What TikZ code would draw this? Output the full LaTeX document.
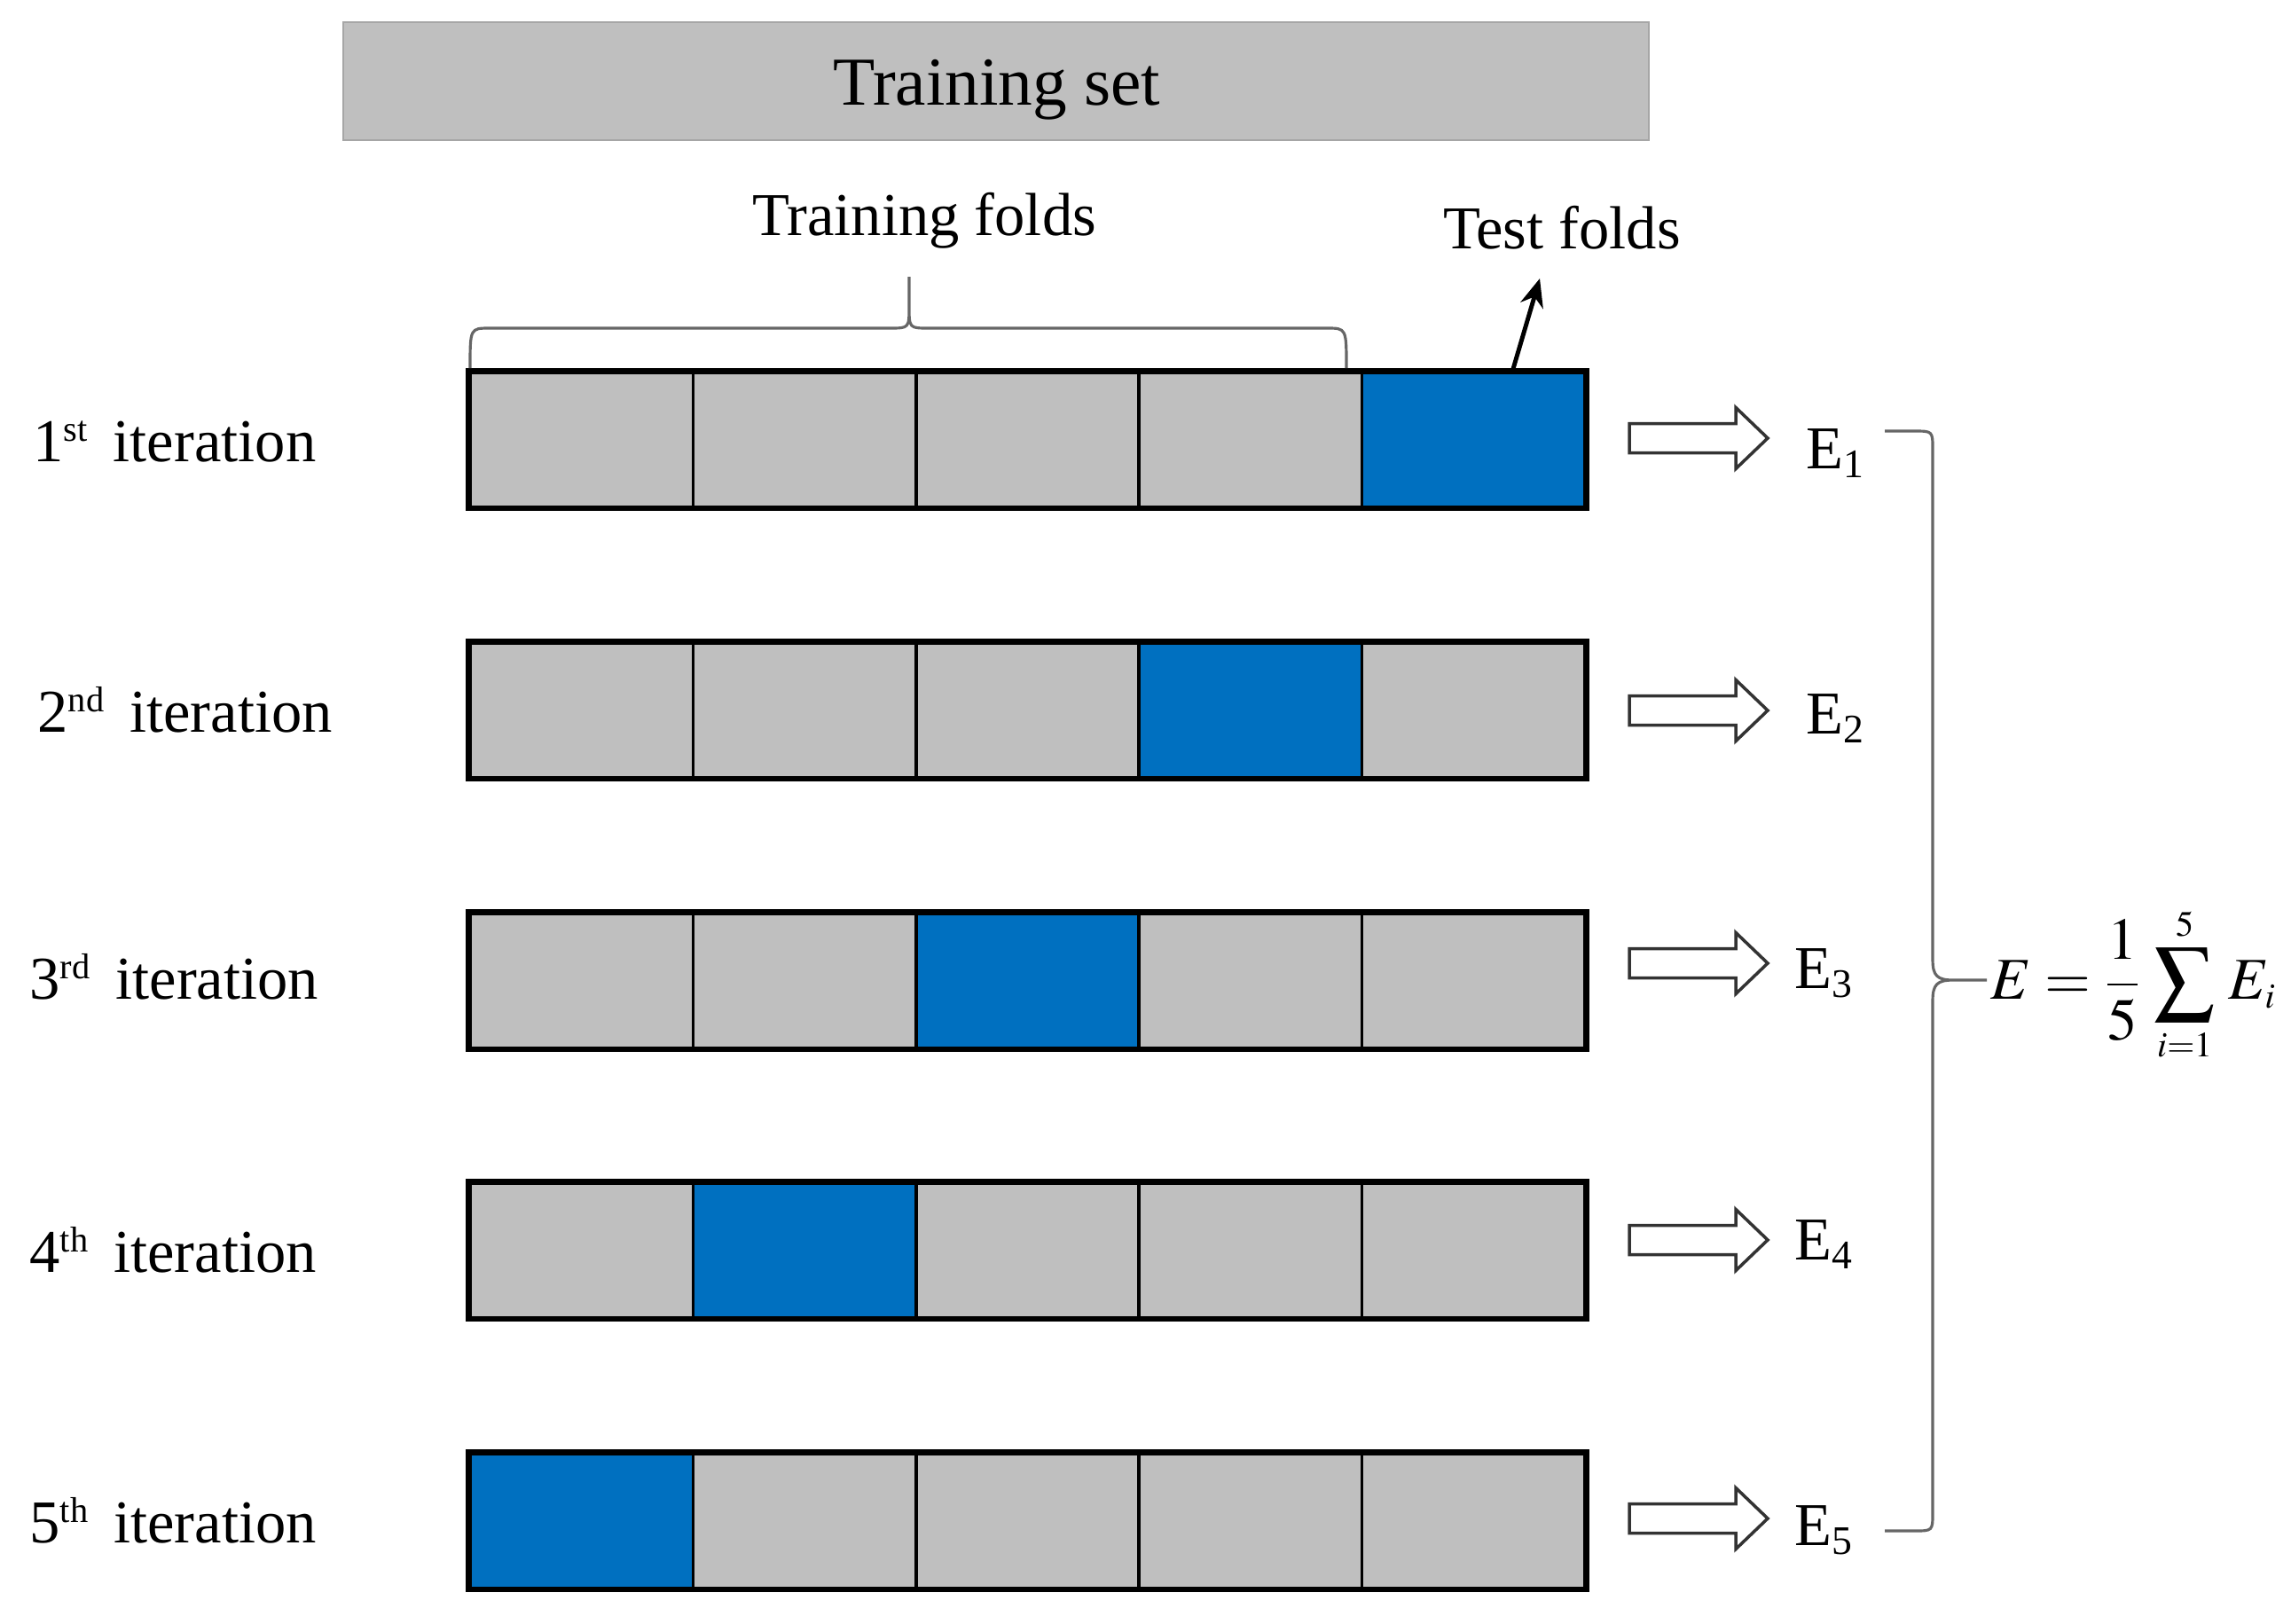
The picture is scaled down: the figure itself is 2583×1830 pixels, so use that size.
\documentclass[tikz,border=0pt]{standalone}
\usepackage{mathptmx}
\usepackage{fontspec}
\setmainfont{Liberation Serif}
\usetikzlibrary{arrows.meta,calc}
\definecolor{cellgray}{HTML}{BFBFBF}
\definecolor{foldblue}{HTML}{0070C0}
\newcommand\itsup[1]{\raisebox{6.3pt}{\fontsize{11.5}{12}\selectfont #1}}
\newcommand\esub[1]{\raisebox{-3pt}{\fontsize{13}{14}\selectfont #1}}
\begin{document}
\begin{tikzpicture}[x=0.01cm,y=-0.01cm,
  lbl/.style={font=\fontsize{19.5}{23}\selectfont, inner sep=0pt},
  cell/.style={draw=black, line width=1pt, minimum width=2.514cm, minimum height=1.515cm, inner sep=0pt, fill=cellgray},
  testcell/.style={cell, fill=foldblue},
  rowframe/.style={draw=black, line width=1.6pt},
  hollow/.style={draw=black!80, line width=1pt, fill=white, line join=miter},
  bracestyle/.style={draw=black!60, line width=0.9pt},
]
\useasboundingbox (0,0) rectangle (2583,1830);
\fill[white] (0,0) rectangle (2583,1830);

% Training set bar
\node[draw=black!35, line width=0.8pt, fill=cellgray, minimum width=14.71cm, minimum height=1.33cm, inner sep=0pt] (tset) at (1123,91.5) {};
\node[font=\fontsize{22}{26}\selectfont, inner sep=0pt, anchor=base] (tsettext) at (1124,118) {Training set};

% folds
\foreach \r/\yt in {1/420,2/725,3/1030,4/1334,5/1639} {
  \foreach \k in {1,...,5} {
    \pgfmathsetmacro\xc{530+251.4*(\k-0.5)}
    \pgfmathtruncatemacro\b{6-\r}
    \ifnum\k=\b \def\cst{testcell}\else\def\cst{cell}\fi
    \node[\cst] (c-\r-\k) at (\xc,\yt+75.75) {};
  }
  \draw[rowframe] (c-\r-1.north west) rectangle (c-\r-5.south east);
}

% iteration labels
\node[lbl, anchor=base west] (it1) at (37,520) {1\itsup{st}\hspace{0.42em}iteration};
\node[lbl, anchor=base west] (it2) at (42,825) {2\itsup{nd}\hspace{0.42em}iteration};
\node[lbl, anchor=base west] (it3) at (33,1126) {3\itsup{rd}\hspace{0.42em}iteration};
\node[lbl, anchor=base west] (it4) at (33,1434) {4\itsup{th}\hspace{0.42em}iteration};
\node[lbl, anchor=base west] (it5) at (33,1739) {5\itsup{th}\hspace{0.42em}iteration};

% Training folds brace and label
\node[lbl, anchor=base] (tfolds) at (1042,265) {Training folds};
\draw[bracestyle] (530,415) .. controls (530,370) .. (552,370) -- (1003,370)
  .. controls (1025,370) .. (1025,345) -- (1025,312) -- (1025,345)
  .. controls (1025,370) .. (1047,370) -- (1496,370) .. controls (1518,370) .. (1518,415);

% Test folds label and arrow
\node[lbl, anchor=base] (tstfolds) at (1761,280) {Test folds};
\coordinate (tail) at ($(c-1-5.north)+(44,0)$);
\coordinate (head) at (1736,314);
\draw[line width=1.4pt, -{Stealth[length=9pt,width=7.5pt]}] (tail) -- (head);

% hollow arrows and E labels
\foreach \r/\ya/\xe/\ye in {1/494/2036/528, 2/801/2036/827, 3/1086/2023/1114, 4/1398/2023/1420, 5/1712/2023/1742} {
  \draw[hollow] (1837,\ya-16.5) -- (1957,\ya-16.5) -- (1957,\ya-34.5) -- (1993,\ya)
    -- (1957,\ya+34.5) -- (1957,\ya+16.5) -- (1837,\ya+16.5) -- cycle;
  \node[lbl, anchor=base west] (e\r) at (\xe,\ye) {E\esub{\r}};
}

% right brace
\draw[bracestyle] (2125,486) -- (2158,486) .. controls (2179,486) .. (2179,507)
  -- (2179,1082) .. controls (2179,1100) and (2184,1105) .. (2202,1105) -- (2240,1105)
  -- (2202,1105) .. controls (2184,1105) and (2179,1110) .. (2179,1128)
  -- (2179,1705) .. controls (2179,1726) .. (2158,1726) -- (2125,1726);

% formula
\node[anchor=west, inner sep=0pt, font=\fontsize{19}{23}\selectfont] (formula) at (2244,1110)
  {$\displaystyle E=\frac{1}{5}\,\mathop{\vcenter{\hbox{\scalebox{1.45}{$\sum$}}}}\limits_{\scriptscriptstyle i=1}^{\scriptscriptstyle 5}\,E_{\scriptscriptstyle i}$};
\end{tikzpicture}
\end{document}
